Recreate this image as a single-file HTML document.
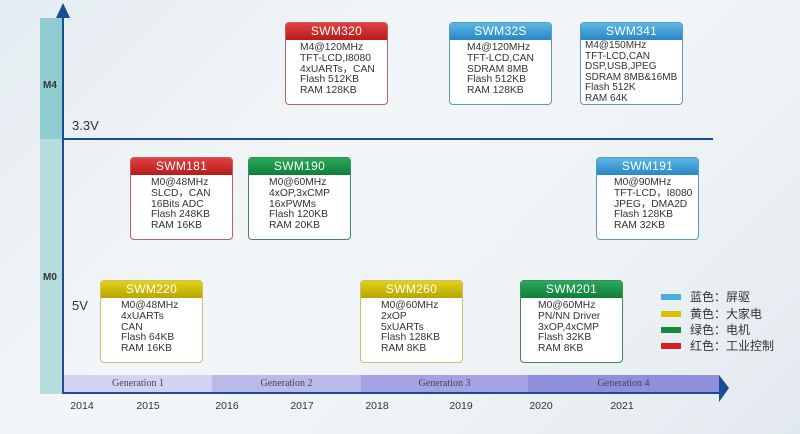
<!DOCTYPE html>
<html><head><meta charset="utf-8"><style>
*{margin:0;padding:0;box-sizing:border-box}
body{width:800px;height:434px;position:relative;overflow:hidden;font-family:"Liberation Sans","Noto Sans CJK SC",sans-serif;background:linear-gradient(135deg,#e4ecf1 0%,#f3f6f8 40%,#eef2f5 70%,#e2e9ee 100%)}
.abs{position:absolute}
.box{position:absolute;width:103px;height:83px;background:#fff;border:1px solid #aaa;border-radius:4px;overflow:hidden}
.box .h{height:17px;color:#fff;font-size:12px;text-align:center;line-height:17px;letter-spacing:.3px}
.box .b{font-size:10.3px;line-height:10.8px;color:#333;padding-top:3px}
.red .h{background:linear-gradient(#e04040,#b81a1a)}.red{border-color:#c06060}
.grn .h{background:linear-gradient(#2aa85a,#0f7f3a)}.grn{border-color:#3a8a5a}
.yel .h{background:linear-gradient(#e2d21a,#b8a500)}.yel{border-color:#c8c070}
.blu .h{background:linear-gradient(#5cb6e4,#2a86c4)}.blu{border-color:#5a9ac4}
.yr{position:absolute;top:400px;font-size:10.5px;color:#333;transform:translateX(-50%)}
.gen{position:absolute;top:375px;height:17px;font-family:"Liberation Serif",serif;font-size:10px;color:#445;text-align:center;line-height:17px}
.lg{position:absolute;left:690px;font-size:12px;color:#333}
.sw{position:absolute;left:661px;width:20px;height:6px}
</style></head><body>
<div class="abs" style="left:40px;top:18px;width:23px;height:121px;background:#8fcdd0"></div>
<div class="abs" style="left:40px;top:139px;width:23px;height:255px;background:#b7dcdd"></div>
<div class="abs" style="left:43px;top:80px;font-size:10px;font-weight:bold;color:#333">M4</div>
<div class="abs" style="left:43px;top:272px;font-size:10px;font-weight:bold;color:#333">M0</div>
<div class="gen" style="left:64px;width:148px;background:#d2d2f2">Generation 1</div>
<div class="gen" style="left:212px;width:149px;background:#babaea">Generation 2</div>
<div class="gen" style="left:361px;width:167px;background:#a3a3e3">Generation 3</div>
<div class="gen" style="left:528px;width:191px;background:#8f8fdc">Generation 4</div>
<svg class="abs" style="left:0;top:0" width="800" height="434">
<line x1="63" y1="12" x2="63" y2="394" stroke="#1a4d92" stroke-width="2"/>
<polygon points="56,18 70,18 63,3" fill="#1a4d92"/>
<line x1="63" y1="139" x2="713" y2="139" stroke="#1a4d92" stroke-width="2"/>
<line x1="62" y1="393" x2="720" y2="393" stroke="#1a4d92" stroke-width="2"/>
<polygon points="719,375 719,402 729,388" fill="#1a4d92"/>
</svg>
<div class="abs" style="left:72px;top:118px;font-size:13px;color:#333">3.3V</div>
<div class="abs" style="left:72px;top:298px;font-size:13px;color:#333">5V</div>

<div class="box red" style="left:285px;top:22px"><div class="h">SWM320</div><div class="b" style="padding-left:14px">M4@120MHz<br>TFT-LCD,I8080<br>4xUARTs，CAN<br>Flash 512KB<br>RAM 128KB</div></div>
<div class="box blu" style="left:449px;top:22px"><div class="h">SWM32S</div><div class="b" style="padding-left:17px">M4@120MHz<br>TFT-LCD,CAN<br>SDRAM 8MB<br>Flash 512KB<br>RAM 128KB</div></div>
<div class="box blu" style="left:580px;top:22px"><div class="h">SWM341</div><div class="b" style="padding-left:4px;padding-top:1px;line-height:10.5px;font-size:10px">M4@150MHz<br>TFT-LCD,CAN<br>DSP,USB,JPEG<br>SDRAM 8MB&amp;16MB<br>Flash 512K<br>RAM 64K</div></div>
<div class="box red" style="left:130px;top:157px"><div class="h">SWM181</div><div class="b" style="padding-left:20px">M0@48MHz<br>SLCD，CAN<br>16Bits ADC<br>Flash 248KB<br>RAM 16KB</div></div>
<div class="box grn" style="left:248px;top:157px"><div class="h">SWM190</div><div class="b" style="padding-left:20px">M0@60MHz<br>4xOP,3xCMP<br>16xPWMs<br>Flash 120KB<br>RAM 20KB</div></div>
<div class="box blu" style="left:596px;top:157px"><div class="h">SWM191</div><div class="b" style="padding-left:17px">M0@90MHz<br>TFT-LCD，I8080<br>JPEG，DMA2D<br>Flash 128KB<br>RAM 32KB</div></div>
<div class="box yel" style="left:100px;top:280px"><div class="h">SWM220</div><div class="b" style="padding-left:20px">M0@48MHz<br>4xUARTs<br>CAN<br>Flash 64KB<br>RAM 16KB</div></div>
<div class="box yel" style="left:360px;top:280px"><div class="h">SWM260</div><div class="b" style="padding-left:20px">M0@60MHz<br>2xOP<br>5xUARTs<br>Flash 128KB<br>RAM 8KB</div></div>
<div class="box grn" style="left:520px;top:280px"><div class="h">SWM201</div><div class="b" style="padding-left:17px">M0@60MHz<br>PN/NN Driver<br>3xOP,4xCMP<br>Flash 32KB<br>RAM 8KB</div></div>

<div class="sw" style="top:294px;background:#4aaee0"></div>
<div class="lg" style="top:288px">蓝色：屏驱</div>
<div class="sw" style="top:311px;background:#d6c400"></div>
<div class="lg" style="top:305px">黄色：大家电</div>
<div class="sw" style="top:327px;background:#13893e"></div>
<div class="lg" style="top:321px">绿色：电机</div>
<div class="sw" style="top:343px;background:#d42020"></div>
<div class="lg" style="top:337px">红色：工业控制</div>

<div class="yr" style="left:82px">2014</div>
<div class="yr" style="left:148px">2015</div>
<div class="yr" style="left:227px">2016</div>
<div class="yr" style="left:302px">2017</div>
<div class="yr" style="left:377px">2018</div>
<div class="yr" style="left:461px">2019</div>
<div class="yr" style="left:541px">2020</div>
<div class="yr" style="left:622px">2021</div>
</body></html>
